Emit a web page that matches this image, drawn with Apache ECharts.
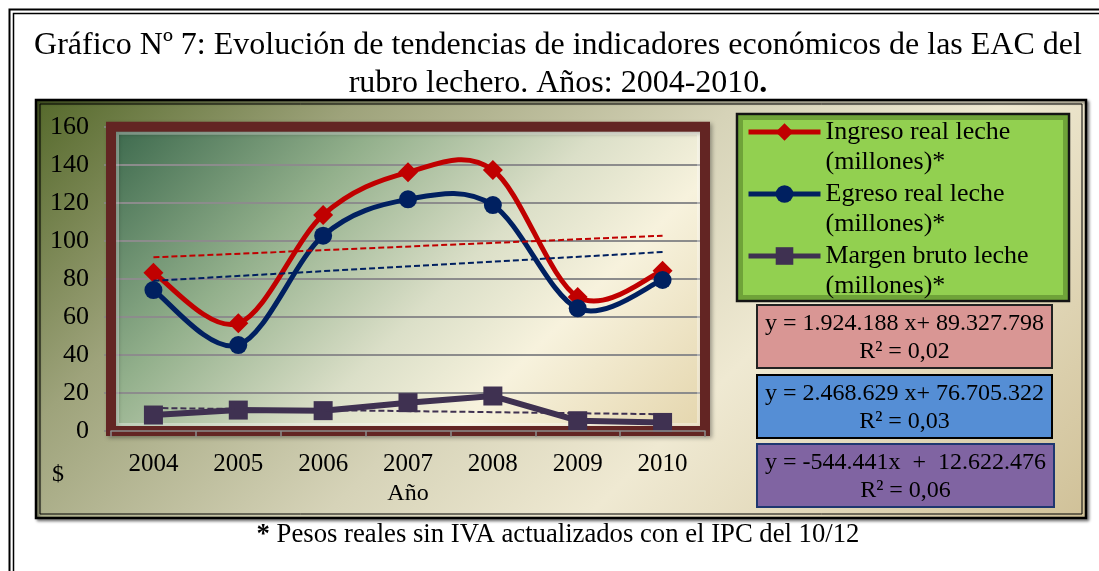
<!DOCTYPE html>
<html>
<head>
<meta charset="utf-8">
<script src="https://cdn.jsdelivr.net/npm/echarts@6/dist/echarts.min.js"></script>
<style>
html,body{margin:0;padding:0;background:#ffffff;}
#chart{width:1099px;height:571px;}
</style>
</head>
<body>
<div id="chart"></div>
<script>
// ---- data ----
const years = ['2004', '2005', '2006', '2007', '2008', '2009', '2010'];
const ingreso = [83.2, 56.6, 113.6, 136.0, 137.2, 70.5, 84.2];
const egreso = [74.1, 45.2, 102.7, 121.8, 118.8, 64.5, 79.4];
const margen = [8.4, 11.0, 10.7, 14.9, 18.4, 5.4, 4.5];
// linear trend lines: only their end values are read, the line joins them
const trendIngreso = [91.3, null, null, null, null, null, 102.7];
const trendEgreso = [79.0, null, null, null, null, null, 94.1];
const trendMargen = [12.1, null, null, null, null, null, 8.8];
const seriesNames = ['Ingreso real leche (millones)*', 'Egreso real leche (millones)*', 'Margen bruto leche (millones)*'];
const yMin = 0, yMax = 160, yStep = 20;
const equations = [
  ['y = 1.924.188 x+ 89.327.798', 'R² = 0,02'],
  ['y = 2.468.629 x+ 76.705.322', 'R² = 0,03'],
  ['y = -544.441x  +  12.622.476', 'R² = 0,06']
];
const titleText = 'Gráfico Nº 7: Evolución de tendencias de indicadores económicos de las EAC del\nrubro lechero. Años: 2004-2010';
const footnote = 'Pesos reales sin IVA actualizados con el IPC del 10/12';

// ---- styling ----
const FF = "'Liberation Serif', 'Times New Roman', serif";
const C_RED = '#c00000', C_BLUE = '#002060', C_PURPLE = '#3f3151';
const GRID = {left: 111, top: 126.7, width: 594, height: 304.3};

function grad45(x, y, w, h, stops) {
  const d = (w + h) / 2;
  return new echarts.graphic.LinearGradient(x, y, x + d, y + d,
    stops.map(s => ({offset: s[0], color: s[1]})), true);
}

const eqBoxes = [
  {y: 305, fill: '#d99694', stroke: '#222222', w: 295},
  {y: 375, fill: '#558ed5', stroke: '#000000', w: 295},
  {y: 444, fill: '#8064a2', stroke: '#1f3770', w: 297}
];

const graphics = [
  // page double frame
  {type: 'rect', z: -20, silent: true, shape: {x: 9.5, y: 9.5, width: 1200, height: 700}, style: {fill: 'none', stroke: '#000', lineWidth: 2}},
  {type: 'rect', z: -20, silent: true, shape: {x: 13.5, y: 13.5, width: 1200, height: 700}, style: {fill: 'none', stroke: '#000', lineWidth: 1.5}},
  // chart area box
  {type: 'rect', z: -19, silent: true, shape: {x: 36, y: 100, width: 1050, height: 418},
    style: {fill: grad45(36, 100, 1050, 418, [[0, '#55692b'], [0.22, '#9ea37b'], [0.48, '#d6d3b8'], [0.66, '#efe9d2'], [1, '#d0c198']]),
      stroke: '#000', lineWidth: 2.5, shadowBlur: 3, shadowOffsetX: 2, shadowOffsetY: 2, shadowColor: 'rgba(0,0,0,0.45)'}},
  {type: 'rect', z: -18, silent: true, shape: {x: 40, y: 104, width: 1042, height: 410}, style: {fill: 'none', stroke: '#000', lineWidth: 1}},
  // plot area background
  {type: 'rect', z: -17, silent: true, shape: {x: GRID.left, y: GRID.top, width: GRID.width, height: GRID.height},
    style: {fill: grad45(GRID.left, GRID.top, GRID.width, GRID.height, [[0, '#3b684c'], [0.3, '#93b08c'], [0.55, '#dbdfc8'], [0.72, '#f7f2dd'], [1, '#e4d5ac']])}},
  // plot area maroon frame
  {type: 'rect', z: 1, silent: true, shape: {x: GRID.left, y: GRID.top, width: GRID.width, height: GRID.height},
    style: {fill: 'none', stroke: '#632523', lineWidth: 10, shadowBlur: 4, shadowOffsetX: 2, shadowOffsetY: 2, shadowColor: 'rgba(0,0,0,0.35)'}},
  {type: 'rect', z: 1, silent: true, shape: {x: GRID.left + 6.5, y: GRID.top + 6.5, width: GRID.width - 13, height: GRID.height - 13},
    style: {fill: 'none', stroke: 'rgba(255,255,255,0.35)', lineWidth: 3}},
  // legend box
  {type: 'rect', z: -16, silent: true, shape: {x: 737, y: 114, width: 332, height: 187},
    style: {fill: '#92d050', stroke: '#141414', lineWidth: 2.5}},
  {type: 'rect', z: -15, silent: true, shape: {x: 740.5, y: 117.5, width: 325, height: 180},
    style: {fill: 'none', stroke: 'rgba(45,80,15,0.35)', lineWidth: 5}},
  // footnote
  {type: 'text', z: 5, silent: true, x: 558, y: 535,
    style: {text: '{b|*} ' + footnote, font: '26.7px ' + FF, fill: '#000', align: 'center', verticalAlign: 'middle', textAlign: 'center', textVerticalAlign: 'middle',
      rich: {b: {fontFamily: FF, fontSize: 26.7, fontWeight: 'bold', fill: '#000'}}}}
];
eqBoxes.forEach((b, i) => {
  graphics.push({type: 'rect', z: 1, silent: true, shape: {x: 757, y: b.y, width: b.w, height: 63},
    style: {fill: b.fill, stroke: b.stroke, lineWidth: 2}});
  graphics.push({type: 'text', z: 2, silent: true, x: 757 + b.w / 2, y: b.y + 32.5,
    style: {text: equations[i].join('\n'), font: '24px ' + FF, fill: '#000', lineHeight: 28,
      align: 'center', verticalAlign: 'middle', textAlign: 'center', textVerticalAlign: 'middle'}});
});

// smoothed curve in the spreadsheet style (Bezier through the points, tangent = (next - prev) / 6)
function smoothCurve(values, color, width) {
  return {
    type: 'custom', name: 'curve', silent: true, z: 2,
    data: values.map((v, i) => [i, v]),
    encode: {x: 0, y: 1},
    renderItem: function (params, api) {
      if (params.dataIndex !== 0) return null;
      const pts = values.map((v, i) => api.coord([i, v]));
      let d = 'M' + pts[0][0] + ',' + pts[0][1];
      for (let i = 0; i < pts.length - 1; i++) {
        const p0 = pts[Math.max(i - 1, 0)], p1 = pts[i], p2 = pts[i + 1], p3 = pts[Math.min(i + 2, pts.length - 1)];
        const c1x = p1[0] + (p2[0] - p0[0]) / 6, c1y = p1[1] + (p2[1] - p0[1]) / 6;
        const c2x = p2[0] - (p3[0] - p1[0]) / 6, c2y = p2[1] - (p3[1] - p1[1]) / 6;
        d += ' C' + c1x + ',' + c1y + ' ' + c2x + ',' + c2y + ' ' + p2[0] + ',' + p2[1];
      }
      return {type: 'path', shape: {pathData: d}, style: {fill: 'none', stroke: color, lineWidth: width, lineJoin: 'round', lineCap: 'round'}};
    }
  };
}
function markerSeries(name, data, color, symbol, size, lineVisible, width) {
  return {name: name, type: 'line', data: data, smooth: false, symbol: symbol, symbolSize: size,
    showSymbol: true, z: 2, lineStyle: {color: color, width: width, opacity: lineVisible ? 1 : 0}, itemStyle: {color: color}};
}
function trendSeries(data, color) {
  return {name: 'trend', type: 'line', data: data, connectNulls: true, symbol: 'none', silent: true, z: 3,
    lineStyle: {color: color, width: 2, type: [6, 3]}, itemStyle: {color: color}};
}

const chart = echarts.init(document.getElementById('chart'), null, {renderer: 'canvas'});
chart.setOption({
  animation: false,
  backgroundColor: '#ffffff',
  title: {
    text: titleText + '{b|.}', left: 558, top: 27, padding: 0, textAlign: 'center',
    textStyle: {fontFamily: FF, fontSize: 32, fontWeight: 'normal', color: '#000', lineHeight: 38,
      rich: {b: {fontFamily: FF, fontSize: 32, fontWeight: 'bold', color: '#000', lineHeight: 38}}}
  },
  legend: {
    data: seriesNames, orient: 'vertical', left: 746, top: 87, padding: 0, itemGap: -28,
    itemWidth: 72, itemHeight: 22, selectedMode: false,
    lineStyle: {width: 5, opacity: 1},
    formatter: n => '\n' + n.replace(' (', '\n('),
    textStyle: {fontFamily: FF, fontSize: 26, color: '#000', lineHeight: 30}
  },
  grid: Object.assign({containLabel: false, outerBoundsMode: 'none'}, GRID),
  xAxis: {
    type: 'category', data: years, boundaryGap: true, z: 3,
    axisLine: {show: true, lineStyle: {color: '#8c8c8c', width: 1.5}},
    axisTick: {show: true, length: 6, lineStyle: {color: '#8c8c8c', width: 1.5}},
    axisLabel: {color: '#000', fontFamily: FF, fontSize: 25, margin: 21},
    splitLine: {show: false},
    name: 'Año', nameLocation: 'middle', nameGap: 63,
    nameTextStyle: {color: '#000', fontFamily: FF, fontSize: 24, verticalAlign: 'middle'}
  },
  yAxis: {
    type: 'value', min: yMin, max: yMax, interval: yStep, z: 0,
    axisLine: {show: true, lineStyle: {color: '#8c8c8c', width: 1.5}},
    axisTick: {show: true, length: 7, lineStyle: {color: '#8c8c8c', width: 1.5}},
    axisLabel: {color: '#000', fontFamily: FF, fontSize: 26, margin: 22},
    splitLine: {show: true, lineStyle: {color: '#8c8c8c', width: 2}},
    name: '$', nameLocation: 'start', nameGap: 44,
    nameTextStyle: {color: '#000', fontFamily: FF, fontSize: 24, align: 'center', verticalAlign: 'middle', padding: [0, 106, 0, 0]}
  },
  graphic: {elements: graphics},
  series: [
    smoothCurve(ingreso, C_RED, 5),
    markerSeries(seriesNames[0], ingreso, C_RED, 'diamond', 20, false, 5),
    smoothCurve(egreso, C_BLUE, 5),
    markerSeries(seriesNames[1], egreso, C_BLUE, 'circle', 18, false, 5),
    markerSeries(seriesNames[2], margen, C_PURPLE, 'rect', 19, true, 6),
    trendSeries(trendIngreso, C_RED),
    trendSeries(trendEgreso, C_BLUE),
    trendSeries(trendMargen, C_PURPLE)
  ]
});
</script>
</body>
</html>
